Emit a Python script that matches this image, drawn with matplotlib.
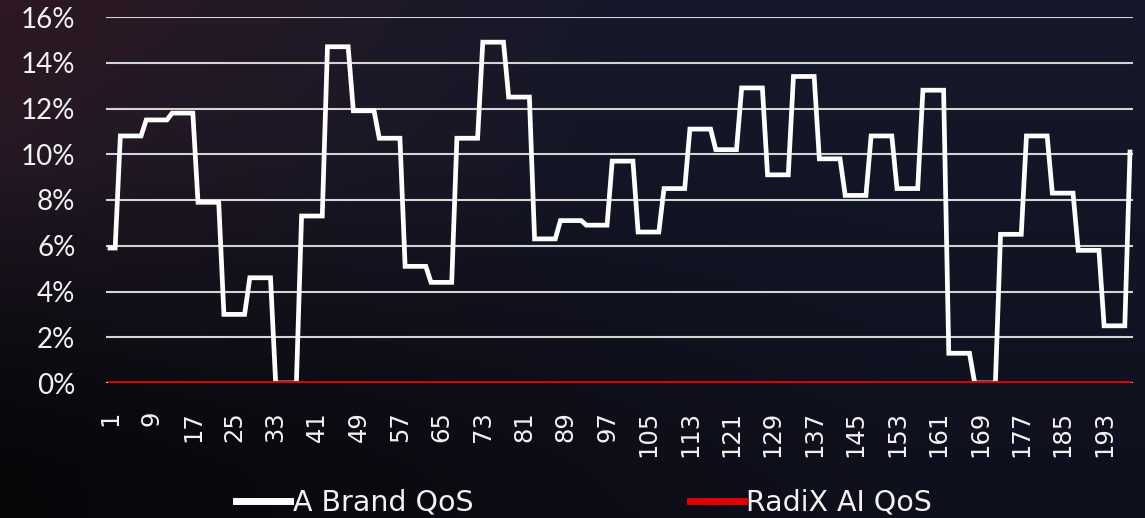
import numpy as np
import matplotlib
matplotlib.use("Agg")
import matplotlib.pyplot as plt
from matplotlib.lines import Line2D

brand_levels = [5.9, 10.8, 11.5, 11.8, 7.9, 3.0, 4.6, 0.0, 7.3, 14.7,
                11.9, 10.7, 5.1, 4.4, 10.7, 14.9, 12.5, 6.3, 7.1, 6.9,
                9.7, 6.6, 8.5, 11.1, 10.2, 12.9, 9.1, 13.4, 9.8, 8.2,
                10.8, 8.5, 12.8, 1.3, 0.0, 6.5, 10.8, 8.3, 5.8, 2.5, 10.1]
brand_runs = [2] + [5] * 39 + [1]

brand_qos = np.repeat(brand_levels, brand_runs) / 100.0
samples = np.arange(1, len(brand_qos) + 1)
radix_qos = np.zeros(len(samples))          # RadiX AI QoS stays at 0%

x_ticks = list(range(1, 194, 8))
y_ticks = [0, 0.02, 0.04, 0.06, 0.08, 0.10, 0.12, 0.14, 0.16]

W, H = 1145, 518
fig = plt.figure(figsize=(W / 100, H / 100), dpi=100)

# dark background: navy with a maroon glow top left, almost black bottom left
bg = fig.add_axes([0, 0, 1, 1], zorder=-10)
yy, xx = np.mgrid[0:H, 0:W]
t = (yy / H)[..., None]
s = (xx / W)[..., None]
navy = np.array([21, 25, 43]) * (1 - t) + np.array([14, 16, 28]) * t
warm = np.array([46, 25, 35])
w = np.clip(1 - s / 0.55, 0, 1) * np.clip(1 - t * 1.05, 0, 1)
img = navy * (1 - w) + warm * w
dark = np.array([8, 6, 9])
d = np.clip(1 - s / 0.8, 0, 1) * np.clip((t - 0.3) / 0.6, 0, 1)
img = img * (1 - d) + dark * d
bg.imshow(img.astype(np.uint8), aspect="auto", extent=[0, 1, 0, 1])
bg.axis("off")

ax = fig.add_axes([106 / W, 1 - 383 / H, (1133 - 106) / W, (383 - 17) / H])
ax.set_facecolor("none")

ax.plot(samples, brand_qos, color="white", lw=3.4, solid_joinstyle="miter", zorder=3)
ax.plot(samples, radix_qos, color="#e00000", lw=2.8, zorder=4)

ax.set_ylim(0, 0.16)
ax.set_xlim(0.23, len(samples) + 0.58)
ax.set_yticks(y_ticks)
ax.set_yticklabels([f"{int(round(v * 100))}%" for v in y_ticks],
                   fontfamily="Lato", fontsize=20, color="#f2f2f2")
ax.set_xticks(x_ticks)
ax.set_xticklabels([str(v) for v in x_ticks], rotation=90,
                   fontfamily="DejaVu Sans", fontsize=17.5, color="#f2f2f2")
ax.tick_params(axis="y", length=0, pad=22)
ax.tick_params(axis="x", length=0, pad=20)

ax.grid(axis="y", color="#d4d4d4", lw=1.5, zorder=1)
ax.grid(axis="x", visible=False)
for sp in ax.spines.values():
    sp.set_visible(False)

handles = [Line2D([], [], color="white", lw=5),
           Line2D([], [], color="#e00000", lw=5)]
fig.legend(handles, ["A Brand QoS", "RadiX AI QoS"], loc="center",
           bbox_to_anchor=(584 / W, 1 - 503 / H), ncol=2, frameon=False,
           prop={"family": "DejaVu Sans", "size": 20.5}, labelcolor="#f2f2f2",
           handlelength=1.9, handletextpad=0.08, columnspacing=7.6)

fig.savefig("out.png", dpi=100)
